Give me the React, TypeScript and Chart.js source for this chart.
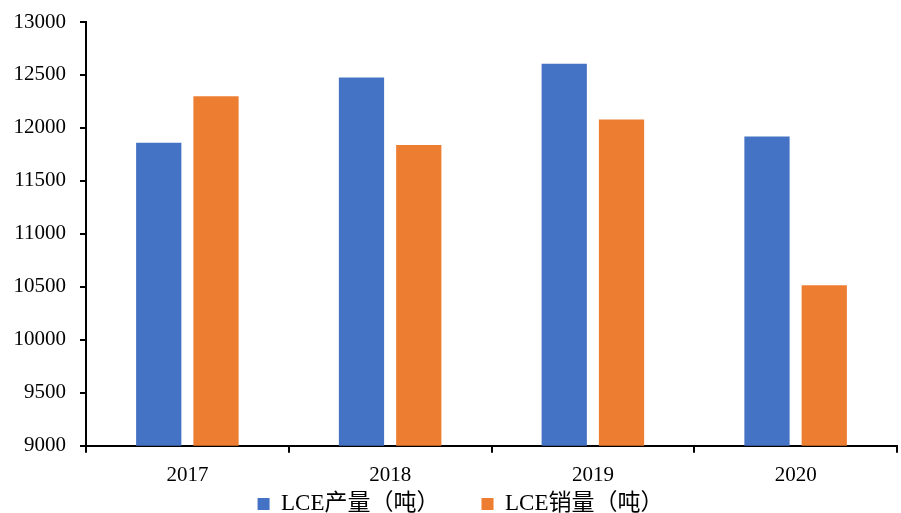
import React, { useEffect, useRef } from "react";
import { Chart, registerables } from "chart.js";

Chart.register(...registerables);

const categories = ["2017", "2018", "2019", "2020"];
const productionLabel = "LCE产量（吨）";
const salesLabel = "LCE销量（吨）";
const production = [11860, 12475, 12605, 11920];
const sales = [12300, 11840, 12080, 10515];
const yMin = 9000;
const yMax = 13000;
const yStep = 500;

const FONT = "'Liberation Serif', 'Noto Sans CJK SC', serif";
const FONT_SIZE = 21;
const LEGEND_FONT_SIZE = 23;
const LEGEND_GAP = 42;
const LEGEND_HEIGHT = 15;
const LEGEND_SHIFT_X = 12;

// Keep a wide gap between legend items while keeping the legend compact.
const legendSpacing = {
  id: "legendSpacing",
  beforeLayout(chart: any) {
    const lg = chart.legend;
    if (lg && !lg.__patched) {
      const orig = lg.fit.bind(lg);
      lg.fit = function () {
        orig();
        this.height = LEGEND_HEIGHT;
      };
      lg.__patched = true;
    }
  },
  afterLayout(chart: any) {
    const lg = chart.legend;
    if (lg) {
      const center = chart.height - 9;
      lg.top = center - LEGEND_GAP - LEGEND_FONT_SIZE / 2;
      lg.bottom = chart.height;
      lg.height = lg.bottom - lg.top;
      lg.left += LEGEND_SHIFT_X;
      lg.right += LEGEND_SHIFT_X;
    }
  },
};

export default function App() {
  const ref = useRef<HTMLCanvasElement>(null);
  useEffect(() => {
    document.body.style.margin = "0";
    const chart = new Chart(ref.current!, {
      type: "bar",
      data: {
        labels: categories,
        datasets: [
          {
            label: productionLabel,
            data: production,
            backgroundColor: "#4472C4",
            categoryPercentage: 0.565,
            barPercentage: 0.79,
          },
          {
            label: salesLabel,
            data: sales,
            backgroundColor: "#ED7D31",
            categoryPercentage: 0.565,
            barPercentage: 0.79,
          },
        ],
      },
      plugins: [legendSpacing],
      options: {
        animation: false,
        responsive: false,
        maintainAspectRatio: false,
        layout: { padding: { top: 22, right: 4, left: 0, bottom: 0 } },
        plugins: {
          tooltip: { enabled: false },
          legend: {
            position: "bottom",
            labels: {
              boxWidth: 12,
              boxHeight: 12,
              padding: LEGEND_GAP,
              color: "#000",
              font: { family: FONT, size: LEGEND_FONT_SIZE },
            },
          },
        },
        scales: {
          x: {
            grid: {
              drawOnChartArea: false,
              drawTicks: true,
              tickLength: 7,
              color: "#000",
              lineWidth: 2,
            },
            border: { display: true, color: "#000", width: 2 },
            ticks: {
              color: "#000",
              padding: 10,
              font: { family: FONT, size: FONT_SIZE },
            },
          },
          y: {
            min: yMin,
            max: yMax,
            grid: {
              drawOnChartArea: false,
              drawTicks: true,
              tickLength: 6,
              color: "#000",
              lineWidth: 2,
            },
            border: { display: true, color: "#000", width: 2 },
            ticks: {
              stepSize: yStep,
              color: "#000",
              padding: 14,
              font: { family: FONT, size: FONT_SIZE },
              callback: (v: any) => String(v),
            },
            afterFit: (s: any) => {
              s.width = 86;
              s.paddingTop = 0;
              s.paddingBottom = 0;
            },
          },
        },
      },
    });
    return () => chart.destroy();
  }, []);
  return <canvas ref={ref} width={901} height={513} style={{ display: "block" }} />;
}
